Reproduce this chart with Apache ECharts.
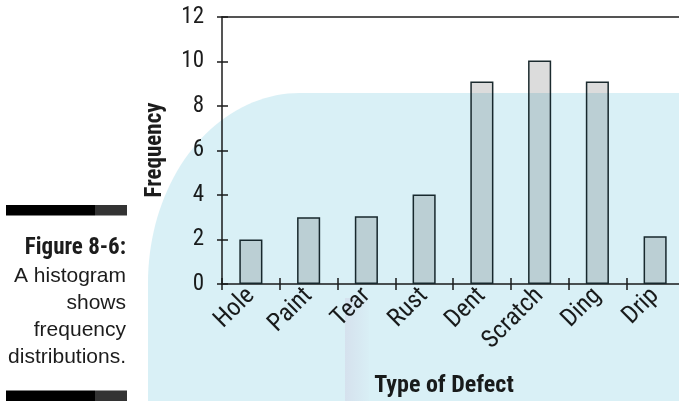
<!DOCTYPE html>
<html>
<head>
<meta charset="utf-8">
<script src="https://cdn.jsdelivr.net/npm/echarts@6/dist/echarts.min.js"></script>
<style>
html,body{margin:0;padding:0;background:#fff;}
#chart{width:679px;height:401px;}
</style>
</head>
<body>
<div id="chart"></div>
<script>
var categories = ['Hole', 'Paint', 'Tear', 'Rust', 'Dent', 'Scratch', 'Ding', 'Drip'];
var frequencies = [2, 3, 3.05, 4.02, 9.1, 10.05, 9.1, 2.15];
var yTicks = [0, 2, 4, 6, 8, 10, 12];
var captionLines = ['A histogram', 'shows', 'frequency', 'distributions.'];
var captionTitle = 'Figure 8-6:';
var yAxisTitle = 'Frequency';
var xAxisTitle = 'Type of Defect';

var NARROW = "'Liberation Sans Narrow', 'Roboto Condensed', 'Liberation Sans', sans-serif";
var REG = "'Liberation Sans', Arial, sans-serif";
var INK = '#1c1c1c';

var chart = echarts.init(document.getElementById('chart'), null, {renderer: 'canvas'});

// decorative background panel with an elliptical top-left corner
var panelPts = [[148, 410]];
var cx = 300, cy = 283, rx = 152, ry = 190;
for (var k = 0; k <= 40; k++) {
  var a = Math.PI - (Math.PI / 2) * (k / 40);
  panelPts.push([cx + rx * Math.cos(a), cy - ry * Math.sin(a)]);
}
panelPts.push([700, 93], [700, 410]);

var graphics = [
  {type: 'polygon', z: 100, silent: true,
   shape: {points: panelPts},
   style: {fill: '#d9f0f6', blend: 'multiply'}},
  {type: 'rect', z: 101, silent: true,
   shape: {x: 345, y: 298, width: 24, height: 103},
   style: {fill: {type: 'linear', x: 0, y: 0, x2: 1, y2: 0, colorStops: [
     {offset: 0, color: 'rgba(245,220,235,0.45)'}, {offset: 1, color: 'rgba(245,220,235,0.05)'}]}, blend: 'multiply'}},
  {type: 'rect', z: 5, shape: {x: 6, y: 205, width: 89, height: 10.5}, style: {fill: '#000'}},
  {type: 'rect', z: 5, shape: {x: 95, y: 205, width: 32, height: 10.5}, style: {fill: '#333'}},
  {type: 'rect', z: 5, shape: {x: 6, y: 390.5, width: 89, height: 10.5}, style: {fill: '#000'}},
  {type: 'rect', z: 5, shape: {x: 95, y: 390.5, width: 32, height: 10.5}, style: {fill: '#333'}},
  {type: 'text', z: 5, x: 126, y: 248,
   style: {text: captionTitle, fill: INK, font: "bold 23px " + NARROW, align: 'right', verticalAlign: 'middle'}},
  {type: 'text', z: 5, rotation: Math.PI / 2, x: 155, y: 150,
   style: {text: yAxisTitle, fill: INK, font: "bold 23px " + NARROW, align: 'center', verticalAlign: 'middle'}},
  {type: 'text', z: 5, x: 444, y: 386,
   style: {text: xAxisTitle, fill: INK, font: "bold 24px " + NARROW, align: 'center', verticalAlign: 'middle'}}
];
var capY = [276, 303, 330, 357];
captionLines.forEach(function (t, i) {
  graphics.push({type: 'text', z: 5, x: 126, y: capY[i],
    style: {text: t, fill: INK, font: "21px " + REG, align: 'right', verticalAlign: 'middle'}});
});

var axisLineStyle = {color: INK, width: 1.5};

chart.setOption({
  animation: false,
  backgroundColor: '#ffffff',
  grid: {left: 222, top: 17, right: -5, bottom: 117, containLabel: false, outerBoundsMode: 'none'},
  xAxis: [
    {type: 'category', data: categories, position: 'bottom',
     axisLine: {show: true, lineStyle: axisLineStyle},
     axisTick: {show: true, length: 6, lineStyle: axisLineStyle},
     axisLabel: {rotate: 45, margin: 8, fontSize: 25, color: INK, fontFamily: NARROW, interval: 0},
     splitLine: {show: false}},
    {type: 'category', data: categories, position: 'bottom',
     axisLine: {show: false},
     axisTick: {show: true, inside: true, length: 6, lineStyle: axisLineStyle},
     axisLabel: {show: false}, splitLine: {show: false}},
    {type: 'category', data: categories, position: 'top',
     axisLine: {show: true, lineStyle: axisLineStyle},
     axisTick: {show: false}, axisLabel: {show: false}, splitLine: {show: false}}
  ],
  yAxis: [
    {type: 'value', min: yTicks[0], max: yTicks[yTicks.length - 1], interval: yTicks[1] - yTicks[0], position: 'left',
     axisLine: {show: true, lineStyle: axisLineStyle},
     axisTick: {show: true, length: 5, lineStyle: axisLineStyle},
     axisLabel: {margin: 18, fontSize: 23, color: INK, fontFamily: NARROW},
     splitLine: {show: false}},
    {type: 'value', min: yTicks[0], max: yTicks[yTicks.length - 1], interval: yTicks[1] - yTicks[0], position: 'left',
     axisLine: {show: false},
     axisTick: {show: true, inside: true, length: 6, lineStyle: axisLineStyle},
     axisLabel: {show: false}, splitLine: {show: false}}
  ],
  series: [{
    type: 'bar', xAxisIndex: 0, yAxisIndex: 0,
    data: frequencies, barWidth: '40%',
    itemStyle: {color: '#dcdcdc', borderColor: '#1b2a2e', borderWidth: 1.5}
  }],
  graphic: graphics
});
</script>
</body>
</html>
